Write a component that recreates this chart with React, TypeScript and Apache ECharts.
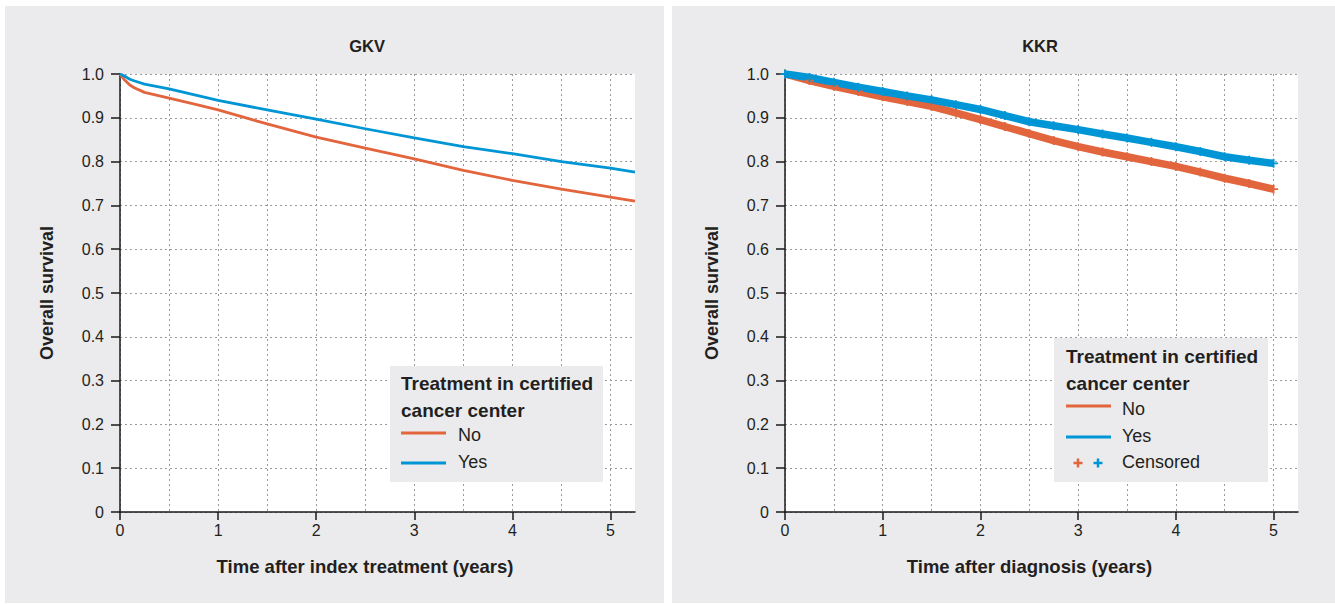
import React, { useEffect, useRef } from "react";
import * as echarts from "echarts";

// ---------- data ----------
const yTickValues = [0, 0.1, 0.2, 0.3, 0.4, 0.5, 0.6, 0.7, 0.8, 0.9, 1.0];
const xLabelTicks = [0, 1, 2, 3, 4, 5];
const xGridTicks = [0, 0.5, 1, 1.5, 2, 2.5, 3, 3.5, 4, 4.5, 5];

const panelTitles = ["GKV", "KKR"];
const xAxisTitles = ["Time after index treatment (years)", "Time after diagnosis (years)"];
const yAxisTitle = "Overall survival";
const legendTitle = ["Treatment in certified", "cancer center"];
const groupNames = ["No", "Yes"];
const censoredLabel = "Censored";

// GKV (smooth curves)
const gkvTime = [0, 0.04, 0.1, 0.15, 0.25, 0.5, 0.75, 1, 1.5, 2, 2.5, 3, 3.5, 4, 4.5, 5, 5.25];
const gkvNo = [1, 0.988, 0.975, 0.968, 0.958, 0.945, 0.932, 0.918, 0.886, 0.856, 0.831, 0.806, 0.78, 0.757, 0.737, 0.719, 0.71];
const gkvYes = [1, 0.996, 0.988, 0.984, 0.977, 0.966, 0.953, 0.94, 0.918, 0.897, 0.875, 0.854, 0.834, 0.818, 0.8, 0.785, 0.776];

// KKR (Kaplan-Meier with censor marks)
const kkrTime = [0, 0.25, 0.5, 0.75, 1, 1.25, 1.5, 1.75, 2, 2.25, 2.5, 2.75, 3, 3.25, 3.5, 3.75, 4, 4.25, 4.5, 4.75, 5];
const kkrNo = [1, 0.985, 0.972, 0.96, 0.948, 0.937, 0.926, 0.911, 0.896, 0.88, 0.864, 0.848, 0.834, 0.822, 0.811, 0.8, 0.789, 0.776, 0.762, 0.75, 0.737];
const kkrYes = [1, 0.992, 0.981, 0.97, 0.96, 0.95, 0.941, 0.93, 0.919, 0.905, 0.891, 0.882, 0.873, 0.863, 0.854, 0.844, 0.834, 0.823, 0.811, 0.803, 0.796];

// ---------- styles ----------
const FONT = "'Liberation Sans', Arial, sans-serif";
const TEXT = "#231f20";
const ORANGE = "#E2653D";
const BLUE = "#0096D6";
const PANEL = "#EBEBED";
const GRIDC = "#9a9a9a";
const AXISC = "#1a1a1a";
const PLUS = "path://M4,0H6V4H10V6H6V10H4V6H0V4H4Z";

const grids = [
  { left: 120, top: 74, width: 515, height: 438 },
  { left: 785, top: 74, width: 513, height: 438 },
];

function pairs(t: number[], v: number[]) {
  return t.map((x, i) => [x, v[i]]);
}

function buildOption() {
  const xAxis: any[] = [];
  const yAxis: any[] = [];
  grids.forEach((_, g) => {
    xAxis.push({
      gridIndex: g,
      type: "value",
      position: "top",
      min: 0,
      max: 5.25,
      axisLine: { show: false },
      axisTick: { show: false, customValues: xGridTicks },
      axisLabel: { show: false, customValues: xGridTicks },
      splitLine: { show: true, lineStyle: { type: [2, 3], color: GRIDC, width: 1 } },
    });
    xAxis.push({
      gridIndex: g,
      type: "value",
      position: "bottom",
      min: 0,
      max: 5.25,
      axisLine: { show: true, onZero: false, lineStyle: { color: AXISC, width: 1.5 } },
      axisTick: { show: true, length: 8, customValues: xLabelTicks, lineStyle: { color: AXISC, width: 1.5 } },
      axisLabel: {
        customValues: xLabelTicks,
        margin: 10,
        fontSize: 16,
        color: TEXT,
        fontFamily: FONT,
      },
      splitLine: { show: false },
    });
    yAxis.push({
      gridIndex: g,
      type: "value",
      min: 0,
      max: 1,
      interval: 0.1,
      axisLine: { show: true, onZero: false, lineStyle: { color: AXISC, width: 1.5 } },
      axisTick: { show: true, length: 9, lineStyle: { color: AXISC, width: 1.5 } },
      axisLabel: {
        margin: 16,
        fontSize: 16,
        color: TEXT,
        fontFamily: FONT,
        formatter: (v: number) => (v === 0 ? "0" : v.toFixed(1)),
      },
      splitLine: { show: true, lineStyle: { type: [2, 3], color: GRIDC, width: 1 } },
      name: yAxisTitle,
      nameLocation: "middle",
      nameGap: 64,
      nameRotate: 90,
      nameTextStyle: { fontSize: 18, fontWeight: "bold", color: TEXT, fontFamily: FONT },
    });
  });

  const series: any[] = [
    {
      type: "line",
      name: "GKV No",
      xAxisIndex: 1,
      yAxisIndex: 0,
      data: pairs(gkvTime, gkvNo),
      showSymbol: false,
      smooth: false,
      lineStyle: { color: ORANGE, width: 2.8, join: "round" },
      itemStyle: { color: ORANGE },
    },
    {
      type: "line",
      name: "GKV Yes",
      xAxisIndex: 1,
      yAxisIndex: 0,
      data: pairs(gkvTime, gkvYes),
      showSymbol: false,
      smooth: false,
      lineStyle: { color: BLUE, width: 2.8, join: "round" },
      itemStyle: { color: BLUE },
    },
    {
      type: "line",
      name: "KKR No",
      xAxisIndex: 3,
      yAxisIndex: 1,
      data: pairs(kkrTime, kkrNo),
      showSymbol: true,
      symbol: PLUS,
      symbolSize: 9,
      lineStyle: { color: ORANGE, width: 7.5, join: "round" },
      itemStyle: { color: ORANGE },
    },
    {
      type: "line",
      name: "KKR Yes",
      xAxisIndex: 3,
      yAxisIndex: 1,
      data: pairs(kkrTime, kkrYes),
      showSymbol: true,
      symbol: PLUS,
      symbolSize: 9,
      lineStyle: { color: BLUE, width: 7.5, join: "round" },
      itemStyle: { color: BLUE },
    },
  ];

  const txt = (x: number, y: number, text: string, size: number, bold: boolean, align = "left") => ({
    type: "text",
    x,
    y,
    z: 10,
    style: {
      text,
      fill: TEXT,
      fontSize: size,
      fontWeight: bold ? "bold" : "normal",
      fontFamily: FONT,
      align,
      verticalAlign: "middle",
    },
  });
  const legLine = (x1: number, y: number, color: string) => ({
    type: "line",
    z: 10,
    shape: { x1, y1: y, x2: x1 + 45, y2: y },
    style: { stroke: color, lineWidth: 2.8 },
  });
  const plus = (cx: number, cy: number, color: string) => ({
    type: "group",
    z: 10,
    children: [
      { type: "line", z: 10, shape: { x1: cx - 4.5, y1: cy, x2: cx + 4.5, y2: cy }, style: { stroke: color, lineWidth: 2.5 } },
      { type: "line", z: 10, shape: { x1: cx, y1: cy - 4.5, x2: cx, y2: cy + 4.5 }, style: { stroke: color, lineWidth: 2.5 } },
    ],
  });

  const graphic: any[] = [
    { type: "rect", z: -10, shape: { x: 5, y: 6, width: 659, height: 597 }, style: { fill: PANEL } },
    { type: "rect", z: -10, shape: { x: 672, y: 6, width: 663, height: 597 }, style: { fill: PANEL } },
    txt(367, 46, panelTitles[0], 16.5, true, "center"),
    txt(1040, 46, panelTitles[1], 16.5, true, "center"),
    txt(365, 566, xAxisTitles[0], 18.5, true, "center"),
    txt(1029.5, 566, xAxisTitles[1], 18.5, true, "center"),
    // left legend
    { type: "rect", z: 9, shape: { x: 390, y: 366, width: 213, height: 116 }, style: { fill: PANEL } },
    txt(401, 383, legendTitle[0], 19, true),
    txt(401, 410, legendTitle[1], 19, true),
    legLine(401, 433, ORANGE),
    txt(458, 435, groupNames[0], 18, false),
    legLine(401, 463, BLUE),
    txt(458, 462, groupNames[1], 18, false),
    // right legend
    { type: "rect", z: 9, shape: { x: 1054, y: 338, width: 214, height: 144 }, style: { fill: PANEL } },
    txt(1066, 356, legendTitle[0], 19, true),
    txt(1066, 383, legendTitle[1], 19, true),
    legLine(1066, 406, ORANGE),
    txt(1122, 409, groupNames[0], 18, false),
    legLine(1066, 437, BLUE),
    txt(1122, 436, groupNames[1], 18, false),
    plus(1078, 463, ORANGE),
    plus(1098, 463, BLUE),
    txt(1122, 462, censoredLabel, 18, false),
  ];

  return {
    animation: false,
    backgroundColor: "#ffffff",
    textStyle: { fontFamily: FONT },
    grid: grids.map((g) => ({ ...g, show: true, backgroundColor: "#ffffff", borderWidth: 0, containLabel: false })),
    xAxis,
    yAxis,
    series,
    graphic,
  };
}

export default function App() {
  const ref = useRef<HTMLDivElement | null>(null);
  useEffect(() => {
    if (!ref.current) return;
    const chart = echarts.init(ref.current, undefined, { renderer: "svg" });
    chart.setOption(buildOption() as any);
    return () => {
      chart.dispose();
    };
  }, []);
  return (
    <div
      ref={ref}
      style={{ position: "absolute", left: 0, top: 0, width: 1335, height: 605, background: "#fff" }}
    />
  );
}
